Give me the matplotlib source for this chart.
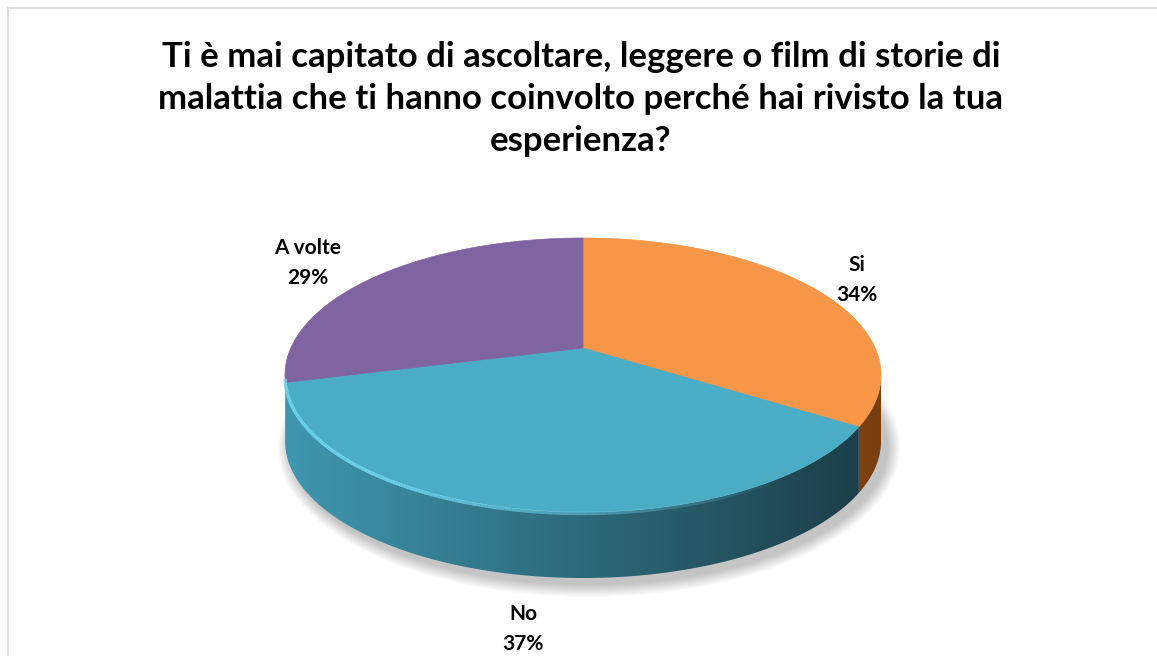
import numpy as np
import matplotlib.pyplot as plt
from matplotlib.patches import Polygon, Ellipse
from matplotlib.collections import LineCollection
from matplotlib.colors import LinearSegmentedColormap

title = ("Ti è mai capitato di ascoltare, leggere o film di storie di\n"
         "malattia che ti hanno coinvolto perché hai rivisto la tua\n"
         "esperienza?")
labels = ["Si", "No", "A volte"]
shares = [34, 37, 29]
top_colors = ["#F79646", "#4BACC6", "#8064A2"]
side_light = ["#C86C22", "#3F97AF", "#6C5591"]
side_dark = ["#7A3F10", "#1B3C46", "#45365E"]
label_pos = [(857, 280), (523, 629), (308, 263)]

plt.rcParams["font.family"] = ["Lato", "DejaVu Sans"]

W, H = 1157, 656
cx, cy = 583, 375      # centre of the top ellipse
rx, ry = 298, 137
depth = 66
tilt = 0.197           # perspective: how far the pie centre sits behind the ellipse centre


def rim(theta):
    # rim point for true angle theta (deg, ccw from 3 o'clock), perspective-mapped
    t = np.radians(theta)
    c, s = np.cos(t), np.sin(t)
    k = 1 + tilt * s
    u = c * np.sqrt(1 - tilt ** 2) / k
    v = (s + tilt) / k
    return cx + rx * u, cy - ry * v


fig = plt.figure(figsize=(W / 100, H / 100), dpi=100)
ax = fig.add_axes([0, 0, 1, 1])
ax.set_xlim(0, W)
ax.set_ylim(H, 0)
ax.axis("off")

# frame
ax.plot([8, 8], [H, 8], color="#D9D9D9", lw=1.2, zorder=1)
ax.plot([8, W], [8, 8], color="#D9D9D9", lw=1.2, zorder=1)

# soft shadow under the pie
for i in range(12):
    grow = 2 + i * 2.2
    ax.add_patch(Ellipse((cx + 6, cy + depth + 6), 2 * rx + grow, 2 * ry + grow,
                         facecolor="#000000", alpha=0.02, lw=0, zorder=2))

edges = 90 - np.concatenate([[0], np.cumsum(shares)]) * 3.6
front = np.degrees(np.arcsin(tilt))
front_lo, front_hi = 180 + front, 360 - front
xs_grad = np.linspace(0, 1, 256).reshape(1, -1)

# sides
for i in range(len(shares)):
    lo, hi = edges[i + 1], edges[i]
    for k in (-1, 0, 1):
        a = max(lo, front_lo + 360 * k)
        b = min(hi, front_hi + 360 * k)
        if a >= b:
            continue
        th = np.linspace(a, b, 200)
        x, y = rim(th)
        pts = np.column_stack([np.r_[x, x[::-1]], np.r_[y, y[::-1] + depth]])
        poly = Polygon(pts, closed=True, facecolor="none", edgecolor="none", zorder=3)
        ax.add_patch(poly)
        cmap = LinearSegmentedColormap.from_list("s%d" % i, [side_light[i], side_dark[i]])
        im = ax.imshow(xs_grad, cmap=cmap, aspect="auto", zorder=3,
                       extent=[cx - rx, cx + rx, cy + ry + depth, cy - ry])
        im.set_clip_path(poly)

# top face
vx, vy = cx, cy - ry * tilt
for i in range(len(shares)):
    th = np.linspace(edges[i], edges[i + 1], 300)
    x, y = rim(th)
    pts = np.column_stack([np.r_[vx, x], np.r_[vy, y]])
    ax.add_patch(Polygon(pts, closed=True, facecolor=top_colors[i],
                         edgecolor=top_colors[i], lw=0.5, zorder=4))

# rim highlight along the front edge
th = np.linspace(front_lo + 1, 305, 200)
x, y = rim(th)
segs = np.stack([np.column_stack([x[:-1], y[:-1] + 1.5]),
                 np.column_stack([x[1:], y[1:] + 1.5])], axis=1)
fade = np.clip((305 - th[:-1]) / 70, 0, 1)
cols = np.zeros((len(fade), 4))
cols[:, :3] = [0.45, 0.85, 0.95]
cols[:, 3] = 0.9 * fade
ax.add_collection(LineCollection(segs, colors=cols, linewidths=2.5, zorder=5))

# labels
for (lx, ly), name, val in zip(label_pos, labels, shares):
    ax.text(lx, ly, "%s\n%d%%" % (name, val), ha="center", va="center",
            fontsize=15, fontweight="bold", color="#000000", linespacing=1.65, zorder=6)

ax.text(581, 99, title, ha="center", va="center", fontsize=25,
        fontweight="bold", color="#000000", linespacing=1.4, zorder=6)

fig.savefig("out.png", dpi=100, facecolor="white")
